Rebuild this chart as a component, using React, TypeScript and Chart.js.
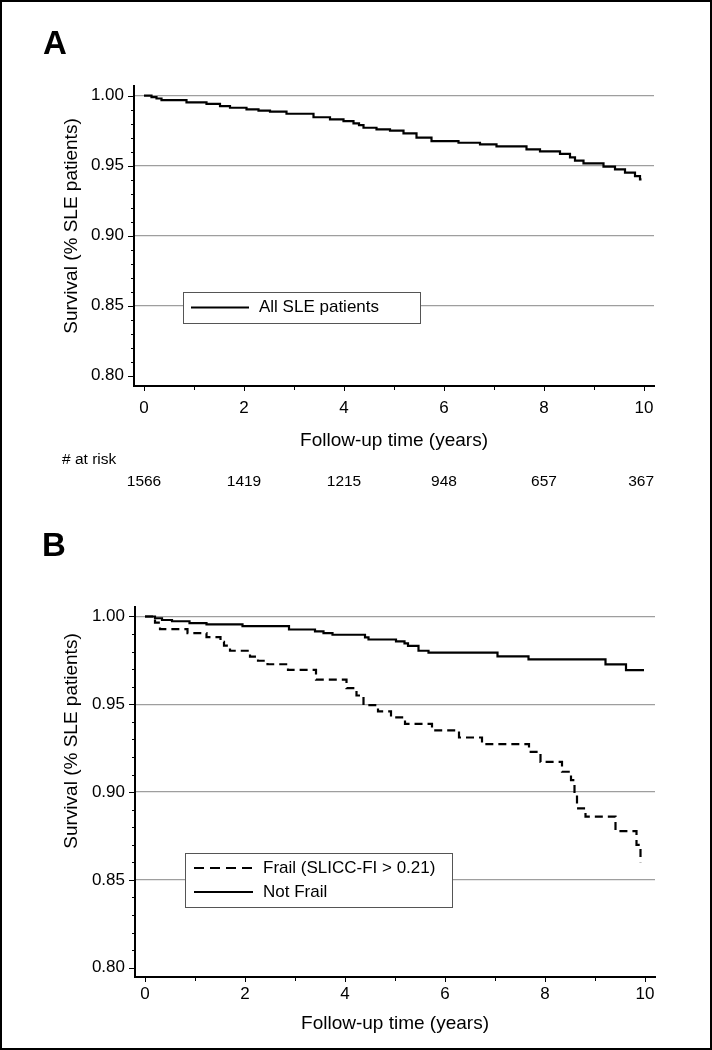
import React, { useEffect, useRef } from 'react';
import { Chart, registerables } from 'chart.js';

Chart.register(...registerables);

const FONT = "'Liberation Sans', Arial, Helvetica, sans-serif";

// ---------- Data ----------
// Panel A: all SLE patients (Kaplan-Meier steps: time, survival after event)
const allTimes = [0, 0.15, 0.25, 0.35, 0.85, 1.25, 1.52, 1.72, 2.05, 2.29, 2.52, 2.85, 3.39, 3.72, 3.99, 4.19, 4.3, 4.39, 4.65, 4.92, 5.19, 5.45, 5.75, 6.29, 6.72, 7.05, 7.65, 7.92, 8.32, 8.52, 8.62, 8.79, 9.19, 9.42, 9.62, 9.82, 9.92, 9.95];
const allSurv = [1.0, 0.999, 0.998, 0.9969, 0.9953, 0.9941, 0.9926, 0.9914, 0.9903, 0.9893, 0.9886, 0.9871, 0.9846, 0.9831, 0.9819, 0.9803, 0.979, 0.9771, 0.976, 0.975, 0.9731, 0.97, 0.9676, 0.9664, 0.9653, 0.9638, 0.9617, 0.9603, 0.9584, 0.956, 0.9536, 0.9517, 0.9493, 0.9474, 0.945, 0.9426, 0.9403, 0.9403];

// Panel B: frail vs not frail
const frailTimes = [0, 0.2, 0.3, 0.85, 1.23, 1.51, 1.58, 1.7, 2.1, 2.26, 2.45, 2.86, 3.42, 4.03, 4.23, 4.37, 4.66, 4.92, 5.2, 5.74, 6.28, 6.74, 7.68, 7.91, 8.34, 8.52, 8.59, 8.64, 8.81, 9.41, 9.83, 9.91];
const frailSurv = [1.0, 0.9965, 0.9928, 0.9905, 0.9883, 0.9855, 0.9834, 0.9805, 0.9772, 0.9748, 0.9728, 0.9696, 0.964, 0.9592, 0.955, 0.9495, 0.946, 0.9426, 0.9388, 0.9352, 0.9311, 0.9273, 0.9229, 0.9172, 0.9116, 0.9068, 0.8983, 0.8907, 0.886, 0.8778, 0.87, 0.86];

const notFrailTimes = [0, 0.2, 0.34, 0.54, 0.89, 1.23, 1.95, 2.88, 3.4, 3.57, 3.75, 4.4, 4.47, 5.02, 5.19, 5.26, 5.47, 5.67, 7.05, 7.67, 9.21, 9.62, 9.98];
const notFrailSurv = [1.0, 0.999, 0.998, 0.9973, 0.9962, 0.9955, 0.9945, 0.9926, 0.9915, 0.9905, 0.9896, 0.9881, 0.9869, 0.9858, 0.9847, 0.9833, 0.9805, 0.9794, 0.9773, 0.9756, 0.9727, 0.9695, 0.9695];

// Numbers at risk (panel A)
const riskTimes = [0, 2, 4, 6, 8, 10];
const riskCounts = [1566, 1419, 1215, 948, 657, 367];

// Ticks
const xMajorTicks = [0, 2, 4, 6, 8, 10];
const xMinorTicks = [1, 3, 5, 7, 9];
const yMajorTicks = [0.8, 0.85, 0.9, 0.95, 1.0];
const yMinorTicks = [0.81, 0.82, 0.83, 0.84, 0.86, 0.87, 0.88, 0.89, 0.91, 0.92, 0.93, 0.94, 0.96, 0.97, 0.98, 0.99];

// Labels
const xTitle = 'Follow-up time (years)';
const yTitle = 'Survival (% SLE patients)';
const riskHeader = '# at risk';

// ---------- Layout ----------
const W = 712;
const H = 525;

type LegendRow = { text: string; y: number; dash: number[] };
type Spec = {
  label: string;
  area: { left: number; right: number; top: number; bottom: number };
  yRange: [number, number];
  xRange: [number, number];
  xLabelPad: number;
  labelPos: [number, number];
  yTitlePos: [number, number];
  xTitleY: number;
  legendBox: [number, number, number, number];
  legendSample: [number, number];
  legendTextX: number;
  legendRows: LegendRow[];
  risk: boolean;
};

const specA: Spec = {
  label: 'A',
  area: { left: 134, right: 654, top: 86, bottom: 386 },
  yRange: [0.79264, 1.00693],
  xRange: [-0.2, 10.2],
  xLabelPad: 12.5,
  labelPos: [55, 45],
  yTitlePos: [72, 226],
  xTitleY: 441,
  legendBox: [183, 292, 237, 31],
  legendSample: [191, 249],
  legendTextX: 259,
  legendRows: [{ text: 'All SLE patients', y: 307.5, dash: [] }],
  risk: true,
};

const specB: Spec = {
  label: 'B',
  area: { left: 135, right: 655, top: 82, bottom: 452 },
  yRange: [0.7947, 1.00541],
  xRange: [-0.2, 10.2],
  xLabelPad: 7.5,
  labelPos: [54, 22],
  yTitlePos: [72, 216],
  xTitleY: 499,
  legendBox: [185, 328, 267, 54],
  legendSample: [194, 253],
  legendTextX: 263,
  legendRows: [
    { text: 'Frail (SLICC-FI > 0.21)', y: 343, dash: [10, 6] },
    { text: 'Not Frail', y: 367, dash: [] },
  ],
  risk: false,
};

function toPoints(xs: number[], ys: number[]) {
  return xs.map((x, i) => ({ x, y: ys[i] }));
}

function makeDecor(spec: Spec) {
  return {
    id: 'decor' + spec.label,
    afterDraw(chart: any) {
      const ctx: CanvasRenderingContext2D = chart.ctx;
      const ca = chart.chartArea;
      const xs = chart.scales.x;
      const ys = chart.scales.y;
      ctx.save();
      // tick marks
      ctx.strokeStyle = '#000';
      ctx.lineWidth = 1;
      ctx.setLineDash([]);
      const yt = [...yMajorTicks.map((v) => [v, 6]), ...yMinorTicks.map((v) => [v, 3])];
      for (const [v, len] of yt) {
        const py = Math.round(ys.getPixelForValue(v)) + 0.5;
        ctx.beginPath();
        ctx.moveTo(ca.left - len, py);
        ctx.lineTo(ca.left, py);
        ctx.stroke();
      }
      const xt = [...xMajorTicks.map((v) => [v, 5]), ...xMinorTicks.map((v) => [v, 4])];
      for (const [v, len] of xt) {
        const px = Math.round(xs.getPixelForValue(v)) + 0.5;
        ctx.beginPath();
        ctx.moveTo(px, ca.bottom);
        ctx.lineTo(px, ca.bottom + len);
        ctx.stroke();
      }

      ctx.fillStyle = '#000';
      ctx.textBaseline = 'middle';

      // panel label
      ctx.font = `bold 33px ${FONT}`;
      ctx.textAlign = 'center';
      ctx.fillText(spec.label, spec.labelPos[0], spec.labelPos[1]);

      // axis titles
      ctx.font = `19px ${FONT}`;
      ctx.fillText(xTitle, (ca.left + ca.right) / 2, spec.xTitleY);
      ctx.save();
      ctx.translate(spec.yTitlePos[0], spec.yTitlePos[1]);
      ctx.rotate(-Math.PI / 2);
      ctx.fillText(yTitle, 0, 0);
      ctx.restore();

      // legend
      const [bx, by, bw, bh] = spec.legendBox;
      ctx.fillStyle = '#fff';
      ctx.fillRect(bx, by, bw, bh);
      ctx.strokeStyle = '#555';
      ctx.lineWidth = 1;
      ctx.strokeRect(bx + 0.5, by + 0.5, bw, bh);
      ctx.fillStyle = '#000';
      ctx.font = `17px ${FONT}`;
      ctx.textAlign = 'left';
      for (const row of spec.legendRows) {
        ctx.strokeStyle = '#000';
        ctx.lineWidth = 2;
        ctx.setLineDash(row.dash);
        ctx.beginPath();
        ctx.moveTo(spec.legendSample[0], row.y);
        ctx.lineTo(spec.legendSample[1], row.y);
        ctx.stroke();
        ctx.setLineDash([]);
        ctx.fillText(row.text, spec.legendTextX, row.y);
      }

      // numbers at risk
      if (spec.risk) {
        ctx.font = `15.5px ${FONT}`;
        ctx.textAlign = 'left';
        ctx.fillText(riskHeader, 62, 460);
        riskTimes.forEach((t, i) => {
          const label = String(riskCounts[i]);
          const w = ctx.measureText(label).width;
          let cx = xs.getPixelForValue(t);
          if (cx + w / 2 > ca.right) cx = ca.right - w / 2;
          ctx.textAlign = 'center';
          ctx.fillText(label, cx, 482);
        });
      }
      ctx.restore();
    },
  };
}

function buildChart(canvas: HTMLCanvasElement, spec: Spec, datasets: any[]) {
  return new Chart(canvas, {
    type: 'line',
    data: { datasets },
    options: {
      animation: false,
      responsive: false,
      maintainAspectRatio: false,
      devicePixelRatio: 1,
      events: [],
      layout: {
        padding: { left: 0, top: spec.area.top, right: W - spec.area.right, bottom: 0 },
      },
      plugins: {
        legend: { display: false },
        tooltip: { enabled: false },
        title: { display: false },
      },
      scales: {
        x: {
          type: 'linear',
          min: spec.xRange[0],
          max: spec.xRange[1],
          afterFit: (s: any) => {
            s.height = H - spec.area.bottom;
          },
          afterBuildTicks: (s: any) => {
            s.ticks = xMajorTicks.map((v) => ({ value: v }));
          },
          ticks: {
            callback: (v: any) => String(v),
            font: { family: FONT, size: 17 },
            color: '#000',
            padding: spec.xLabelPad,
            maxRotation: 0,
            autoSkip: false,
          },
          grid: { color: 'rgba(0,0,0,0)', drawTicks: false },
          border: { display: true, color: '#000', width: 2 },
        },
        y: {
          type: 'linear',
          min: spec.yRange[0],
          max: spec.yRange[1],
          afterFit: (s: any) => {
            s.width = spec.area.left;
          },
          afterBuildTicks: (s: any) => {
            s.ticks = yMajorTicks.map((v) => ({ value: v }));
          },
          ticks: {
            callback: (v: any) => Number(v).toFixed(2),
            font: { family: FONT, size: 17 },
            color: '#000',
            padding: 10,
            autoSkip: false,
          },
          grid: {
            color: (c: any) => (c.tick && c.tick.value > 0.801 ? '#9e9e9e' : 'rgba(0,0,0,0)'),
            lineWidth: 1.3,
            drawTicks: false,
          },
          border: { display: true, color: '#000', width: 2 },
        },
      },
    },
    plugins: [makeDecor(spec)],
  } as any);
}

function lineDataset(points: { x: number; y: number }[], dash: number[]) {
  return {
    data: points,
    borderColor: '#000',
    borderWidth: 2.2,
    borderDash: dash,
    pointRadius: 0,
    stepped: 'before',
    fill: false,
    tension: 0,
  };
}

export default function App() {
  const refA = useRef<HTMLCanvasElement>(null);
  const refB = useRef<HTMLCanvasElement>(null);

  useEffect(() => {
    const a = buildChart(refA.current!, specA, [lineDataset(toPoints(allTimes, allSurv), [])]);
    const b = buildChart(refB.current!, specB, [
      lineDataset(toPoints(notFrailTimes, notFrailSurv), []),
      lineDataset(toPoints(frailTimes, frailSurv), [8, 5]),
    ]);
    return () => {
      a.destroy();
      b.destroy();
    };
  }, []);

  return (
    <div style={{ position: 'absolute', left: 0, top: 0, width: W, height: 1050, background: '#fff' }}>
      <canvas ref={refA} width={W} height={H} style={{ position: 'absolute', left: 0, top: 0, width: W, height: H }} />
      <canvas ref={refB} width={W} height={H} style={{ position: 'absolute', left: 0, top: H, width: W, height: H }} />
      <div
        style={{
          position: 'absolute',
          left: 0,
          top: 0,
          width: W,
          height: 1050,
          boxSizing: 'border-box',
          border: '2px solid #000',
          pointerEvents: 'none',
        }}
      />
    </div>
  );
}
